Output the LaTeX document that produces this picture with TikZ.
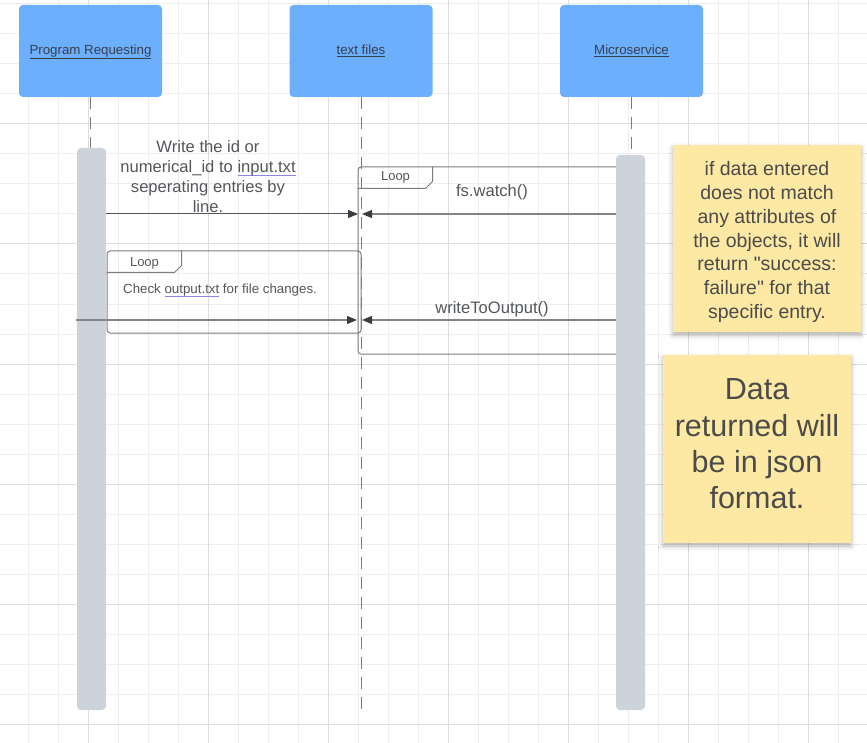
\documentclass[tikz,border=0pt]{standalone}
\usepackage{fontspec}
\setmainfont{Liberation Sans}[Ligatures=TeXOff]
\usetikzlibrary{arrows.meta,shadows.blur}
\definecolor{gridminor}{HTML}{EEEEEE}
\definecolor{gridmajor}{HTML}{DEDEDE}
\definecolor{headblue}{HTML}{6BAFFD}
\definecolor{bargray}{HTML}{CDD3DB}
\definecolor{noteyellow}{HTML}{FDE9A3}
\definecolor{labelink}{HTML}{39404C}
\definecolor{inkgray}{HTML}{53565A}
\definecolor{notegray}{HTML}{4B4B4B}
\definecolor{lifegray}{HTML}{7A7A7A}
\definecolor{framegray}{HTML}{7C7C7C}
\definecolor{msggray}{HTML}{848484}
\definecolor{msgdark}{HTML}{50545A}
\definecolor{tipdark}{HTML}{3A3D42}
\definecolor{spellpurple}{HTML}{8A86E6}
\newcommand{\spellmark}[1]{\setbox0\hbox{#1}\rlap{\color{spellpurple}\rule[-2.6pt]{\wd0}{0.9pt}}\box0\relax}
\begin{document}
\begin{tikzpicture}[x=1pt, y=-1pt]
\useasboundingbox (0,0) rectangle (867,743);

\foreach \gx in {-2,28,...,868} \draw[gridminor, line width=1pt] (\gx,0) -- (\gx,743);
\foreach \gy in {4,34,...,754} \draw[gridminor, line width=1pt] (0,\gy) -- (867,\gy);
\foreach \gx in {88,208,...,808} \draw[gridmajor, line width=1pt] (\gx,0) -- (\gx,743);
\foreach \gy in {124,244,...,724} \draw[gridmajor, line width=1pt] (0,\gy) -- (867,\gy);

\tikzset{every node/.style={fill=headblue, rounded corners=4pt, minimum width=143pt, minimum height=92pt, text=labelink, text height=10pt, text depth=3pt, font=\fontsize{13.3}{16}\selectfont}}
\node (req) at (90.5,51) {\underline{Program Requesting}};
\node (txt) at (361,51) {\underline{text files}};
\node (ms) at (631.5,51) {\underline{Microservice}};

\coordinate (reqend) at (90.5,713);
\coordinate (txtend) at (361,713);
\coordinate (msend) at (631.5,713);
\tikzset{lifeline/.style={draw=lifegray, line width=1pt, dash pattern=on 12pt off 8pt}}
\path (req) edge [lifeline] (reqend);
\path (txt) edge [lifeline] (txtend);
\path (ms) edge [lifeline] (msend);

\tikzset{every node/.style={draw=framegray, line width=1pt, rounded corners=3pt, inner sep=0pt}}
\node[minimum width=272pt, minimum height=187pt] (watchloop) at (494,260.5) {};
\node[minimum width=254pt, minimum height=82pt] (readloop) at (234,292) {};
\draw[framegray, line width=1pt] (watchloop.north west) ++(0,22) -- ++(68,0) -- ++(7,-7) -- ++(0,-15);
\draw[framegray, line width=1pt] (readloop.north west) ++(0,22) -- ++(68,0) -- ++(7,-7) -- ++(0,-15);

\tikzset{every node/.style={text=inkgray, inner sep=0pt, font=\fontsize{13}{16}\selectfont}}
\node[anchor=base] (watchtag) at (395.5,181) {Loop};
\node[anchor=base] (readtag) at (144.5,266) {Loop};
\node[anchor=base west, font=\fontsize{13.3}{16}\selectfont] (checktxt) at (123,294) {Check \spellmark{output.txt} for file changes.};

\tikzset{every node/.style={fill=bargray, rounded corners=4pt, minimum width=29pt, inner sep=0pt}}
\node[minimum height=562pt] (reqbar) at (91.5,429) {};
\node[minimum height=555pt] (msbar) at (630.5,432.5) {};

\coordinate (writeA) at (106,214);
\coordinate (writeB) at (358,214);
\coordinate (watchA) at (616,214);
\coordinate (watchB) at (362,214);
\coordinate (checkA) at (76,320);
\coordinate (checkB) at (357,320);
\coordinate (outA) at (616,320);
\coordinate (outB) at (362,320);

\tikzset{every node/.style={text=inkgray, inner sep=0pt, font=\fontsize{16.6}{20}\selectfont}}
\tikzset{msgstyle/.style={-{Triangle[length=10pt,width=8pt,color=tipdark]}, draw=msggray, line width=1.2pt}}
\path (writeA) edge [msgstyle, draw=msgdark, line width=1pt] (writeB);
\path (watchA) edge [msgstyle] node[above=13pt, xshift=3pt] {fs.watch()} (watchB);
\path (checkA) edge [msgstyle] (checkB);
\path (outA) edge [msgstyle] node[above=2.5pt, xshift=3pt] {writeToOutput()} (outB);
\node[align=center] (writetxt) at (208,177) {Write the id or\\numerical\_id to \spellmark{input.txt}\\seperating entries by\\line.};

\tikzset{every node/.style={}}
\tikzset{notestyle/.style={fill=noteyellow, minimum width=188pt, minimum height=187pt, inner sep=0pt, blur shadow={shadow xshift=0pt, shadow yshift=-3pt, shadow blur radius=5pt, shadow opacity=30}}}
\node[notestyle] (errnote) at (767,238.5) {};
\node[notestyle, minimum height=188pt] (jsonnote) at (757,449) {};
\tikzset{every node/.style={text=notegray, inner sep=0pt, align=center}}
\node[font=\fontsize{19.5}{23.7}\selectfont] (errtext) at (767,242) {if data entered\\does not match\\any attributes of\\the objects, it will\\return "success:\\failure" for that\\specific entry.};
\node[font=\fontsize{30.5}{36.3}\selectfont] (jsontext) at (757,444) {Data\\returned will\\be in json\\format.};
\end{tikzpicture}
\end{document}
